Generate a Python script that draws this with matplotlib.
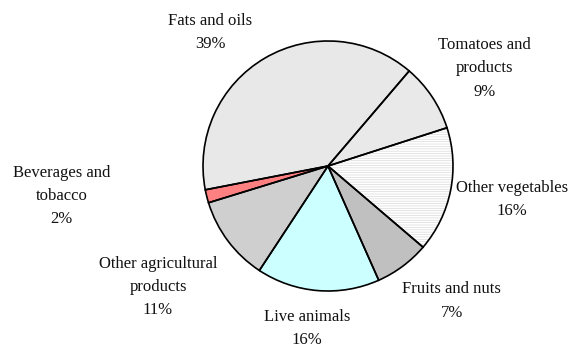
import matplotlib.pyplot as plt

# Share of exports by product group (%)
labels = ['Tomatoes and\nproducts', 'Other vegetables', 'Fruits and nuts', 'Live animals',
          'Other agricultural\nproducts', 'Beverages and\ntobacco', 'Fats and oils']
values = [8.8, 16.2, 7.1, 15.9, 11.0, 1.7, 39.3]
pct_text = ['9%', '16%', '7%', '16%', '11%', '2%', '39%']
colors = ['#e9e9e9', '#ffffff', '#c0c0c0', '#ccffff', '#cfcfcf', '#ff8080', '#e8e8e8']
hatches = [None, '-------', None, None, None, None, None]

# label centres, in units of the pie radius (centre at 0,0)
label_pos = [(1.25, 0.78), (1.47, -0.27), (0.99, -1.08), (-0.17, -1.30),
             (-1.36, -0.97), (-2.13, -0.24), (-0.94, 1.07)]

plt.rcParams['font.family'] = ['Liberation Serif', 'DejaVu Serif']
plt.rcParams['hatch.linewidth'] = 0.5

fig = plt.figure(figsize=(5.69, 3.48), dpi=100)
ax = fig.add_axes([0, 0, 1, 1])

# fill + hatching (light grey lines)
wedges, _ = ax.pie(values, colors=colors, startangle=49.5, counterclock=False,
                   radius=1, wedgeprops=dict(linewidth=0, edgecolor='#dadada'))
for w, h in zip(wedges, hatches):
    if h:
        w.set_hatch(h)

# black outlines on top
ax.pie(values, colors=['none'] * len(values), startangle=49.5, counterclock=False,
       radius=1, wedgeprops=dict(linewidth=1.2, edgecolor='black'))

for lab, pct, (x, y) in zip(labels, pct_text, label_pos):
    ax.text(x, y, lab + '\n' + pct, ha='center', va='center', fontsize=12,
            linespacing=1.6, color='#111111')

ax.set_xlim(-328 / 125, (569 - 328) / 125)
ax.set_ylim(-(348 - 166) / 125, 166 / 125)
ax.set_aspect('equal')
ax.axis('off')

fig.savefig('out.png', dpi=100, facecolor='white')
